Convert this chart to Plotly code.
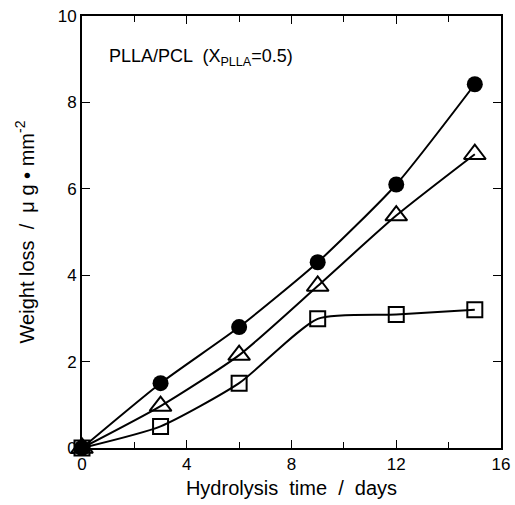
import plotly.graph_objects as go

days = [0, 3, 6, 9, 12, 15]
circles = [0, 1.5, 2.8, 4.3, 6.1, 8.42]
triangles = [0, 0.97, 2.15, 3.75, 5.38, 6.8]
squares = [0, 0.5, 1.5, 2.99, 3.09, 3.2]

fig = go.Figure()
lw = 2
fig.add_trace(go.Scatter(x=days, y=squares, mode="lines+markers",
                         line=dict(color="black", width=lw, shape="spline", smoothing=0.6),
                         marker=dict(symbol="square-open", size=15, color="black", line=dict(width=2)),
                         cliponaxis=False))
fig.add_trace(go.Scatter(x=days, y=triangles, mode="lines+markers",
                         line=dict(color="black", width=lw, shape="spline", smoothing=0.6),
                         marker=dict(symbol="triangle-up-open", size=19, color="black", line=dict(width=2)),
                         cliponaxis=False))
fig.add_trace(go.Scatter(x=days, y=circles, mode="lines+markers",
                         line=dict(color="black", width=lw, shape="spline", smoothing=0.6),
                         marker=dict(symbol="circle", size=16, color="black"),
                         cliponaxis=False))

font = dict(family="Liberation Sans, Arial, sans-serif", size=17, color="black")
fig.update_layout(
    width=515, height=505,
    margin=dict(l=82, r=14, t=16, b=57),
    paper_bgcolor="white", plot_bgcolor="white",
    showlegend=False,
    font=font,
    xaxis=dict(range=[0, 16], tickvals=[0, 4, 8, 12, 16], ticks="inside", ticklen=8,
               tickwidth=1, tickcolor="black", automargin=False,
               minor=dict(tickvals=[2, 6, 10, 14], ticks="inside", ticklen=6, tickcolor="black"),
               showline=True, linecolor="black", linewidth=2, mirror="allticks",
               showgrid=False, zeroline=False,
               title=dict(text="Hydrolysis  time  /  days", standoff=8)),
    yaxis=dict(range=[0, 10], tickvals=[0, 2, 4, 6, 8, 10], ticks="inside", ticklen=8,
               tickwidth=1, tickcolor="black", automargin=False,
               showline=True, linecolor="black", linewidth=2, mirror="allticks",
               showgrid=False, zeroline=False,
               title=dict(text="Weight loss  /  μ g • mm<sup>-2</sup>", standoff=18)),
)
fig.add_annotation(x=0.06, y=0.905, xref="paper", yref="paper", xanchor="left", yanchor="middle",
                   text="PLLA/PCL  (X<sub>PLLA</sub>=0.5)", showarrow=False,
                   font=dict(family="Liberation Sans, Arial, sans-serif", size=18, color="black"))

fig.write_html("out.html", config={"displayModeBar": False},
               post_script="document.body.style.margin='0';")
